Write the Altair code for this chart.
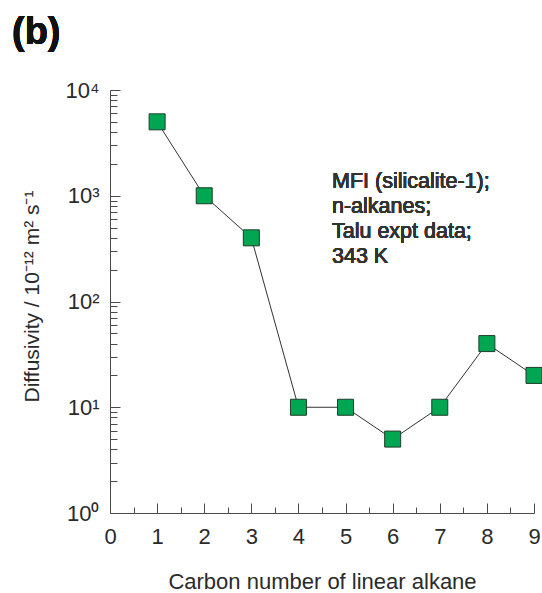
import altair as alt
import pandas as pd

# Self-diffusivities of n-alkanes in MFI (silicalite-1) at 343 K
carbon_number = [1, 2, 3, 4, 5, 6, 7, 8, 9]
diffusivity = [5000, 1000, 400, 10, 10, 5, 10, 40, 20]

# Axis tick positions
x_major = [0, 1, 2, 3, 4, 5, 6, 7, 8, 9]
x_all_ticks = [0, 0.5, 1, 1.5, 2, 2.5, 3, 3.5, 4, 4.5, 5, 5.5, 6, 6.5, 7, 7.5, 8, 8.5, 9]
y_decades = [1, 10, 100, 1000, 10000]
y_all_ticks = [m * 10 ** e for e in range(4) for m in range(1, 10)] + [10000]

note_lines = ["MFI (silicalite-1);", "n-alkanes;", "Talu expt data;", "343 K"]
panel_tag = "(b)"
x_title = "Carbon number of linear alkane"
y_title = "Diffusivity / 10\u207b\u00b9\u00b2 m\u00b2 s\u207b\u00b9"

df = pd.DataFrame({"n": carbon_number, "D": diffusivity})

FONT = "Liberation Sans"
INK = "#2a2a2a"
AXIS = "#4a4a4a"
GREEN = "#00a651"

W, H = 424, 423

x_scale = alt.Scale(domain=[0, 9], nice=False, zero=False)
y_scale = alt.Scale(type="log", domain=[1, 10000], nice=False)

base = alt.Chart(df)

# Labelled axes (no ticks): bottom and left
line = base.mark_line(color="#333333", strokeWidth=1).encode(
    x=alt.X(
        "n:Q",
        scale=x_scale,
        axis=alt.Axis(
            orient="bottom", values=x_major, format="d", ticks=False, tickSize=0,
            grid=False, domainColor=AXIS, domainWidth=1, labelFlush=False,
            labelFont=FONT, labelFontSize=22, labelColor=INK, labelPadding=13,
            title=x_title, titleFont=FONT, titleFontSize=22, titleFontWeight="normal",
            titleColor=INK, titleX=W / 2, titleY=75, titleBaseline="alphabetic",
            titleAnchor="middle",
        ),
    ),
    y=alt.Y(
        "D:Q",
        scale=y_scale,
        axis=alt.Axis(
            orient="left", values=y_decades, ticks=False, tickSize=0, grid=False,
            domainColor=AXIS, domainWidth=1, labelFlush=False,
            labelExpr="'10' + ['\u2070','\u00b9','\u00b2','\u00b3','\u2074'][round(log(datum.value)/LN10)]",
            labelFont=FONT, labelFontSize=22, labelColor=INK, labelPadding=11,
            title=y_title, titleFont=FONT, titleFontSize=21, titleFontWeight="normal",
            titleColor=INK, titleX=-72, titleY=206, titleBaseline="alphabetic",
            titleAnchor="middle", titleAngle=270,
        ),
    ),
)

points = base.mark_square(
    size=256, filled=True, color=GREEN, stroke="#1f3d2a", strokeWidth=1, opacity=1
).encode(
    x=alt.X("n:Q", scale=x_scale, axis=None),
    y=alt.Y("D:Q", scale=y_scale, axis=None),
)

# Inward-pointing tick marks: opposite-side axes shifted onto the frame
ticks = base.mark_point(opacity=0).encode(
    x=alt.X(
        "n:Q",
        scale=x_scale,
        axis=alt.Axis(
            orient="top", offset=-H, values=x_all_ticks, labels=False, domain=False,
            grid=False, title=None, tickColor=AXIS, tickWidth=1,
            tickSize={"condition": {"test": "datum.value % 1 === 0", "value": 10}, "value": 6},
        ),
    ),
    y=alt.Y(
        "D:Q",
        scale=y_scale,
        axis=alt.Axis(
            orient="right", offset=-W, values=y_all_ticks, labels=False, domain=False,
            grid=False, title=None, tickColor=AXIS, tickWidth=1,
            tickSize={"condition": {"test": "indexof([1,10,100,1000,10000], datum.value) >= 0", "value": 10}, "value": 7},
        ),
    ),
)

note = alt.Chart(df).mark_text(
    align="left", baseline="alphabetic", font=FONT, fontSize=21.5, color="#333333", lineHeight=25
).encode(x=alt.value(222), y=alt.value(98), text=alt.value(note_lines))

tag = alt.Chart(df).mark_text(
    align="left", baseline="alphabetic", font=FONT, fontSize=38, fontWeight="bold", color="#111111"
).encode(x=alt.value(-98), y=alt.value(-46), text=alt.value(panel_tag))

chart = (
    alt.layer(line, points, ticks, note, tag)
    .resolve_axis(x="independent", y="independent")
    .properties(
        width=W,
        height=H,
        autosize=alt.AutoSizeParams(type="none"),
        padding={"left": 110, "top": 90, "right": 8, "bottom": 80},
        background="white",
    )
    .configure_view(stroke=None)
)

chart.save("out.html", embed_options={"renderer": "svg", "actions": False})
